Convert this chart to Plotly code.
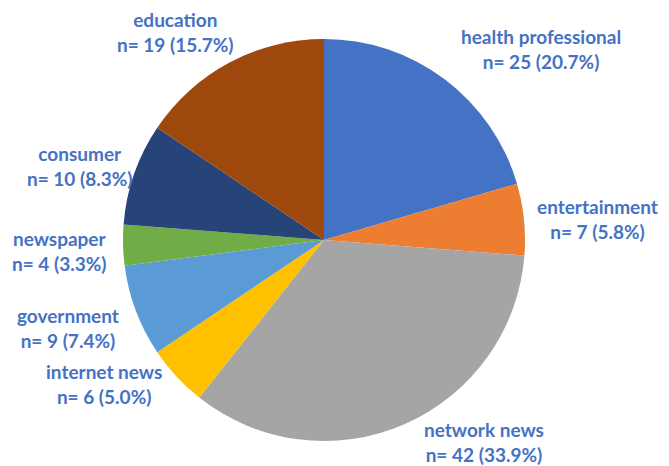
import plotly.graph_objects as go

categories = ["health professional", "entertainment", "network news", "internet news",
              "government", "newspaper", "consumer", "education"]
counts = [25, 7, 42, 6, 9, 4, 10, 19]
pct_labels = ["20.7%", "5.8%", "33.9%", "5.0%", "7.4%", "3.3%", "8.3%", "15.7%"]
colors = ["#4472C4", "#ED7D31", "#A5A5A5", "#FFC000", "#5B9BD5", "#70AD47", "#264478", "#9E480E"]

# label block centres (pixels in the 669x466 window)
label_px = [(541, 49), (597, 219), (484, 442), (104, 384),
            (68, 328), (60, 251), (80, 166), (175, 32)]

W, H = 669, 466
OFF = 8  # page body margin
cx, cy, r = 324 - OFF, 240 - OFF, 201

fig = go.Figure(go.Pie(
    labels=categories, values=counts, sort=False, direction="clockwise", rotation=0,
    marker=dict(colors=colors, line=dict(width=0)),
    textinfo="none", hoverinfo="label+value", showlegend=False,
    domain=dict(x=[(cx - r) / W, (cx + r) / W], y=[1 - (cy + r) / H, 1 - (cy - r) / H]),
))

for cat, n, p, (x, y) in zip(categories, counts, pct_labels, label_px):
    fig.add_annotation(
        x=(x - OFF) / W, y=1 - (y - OFF) / H, xref="paper", yref="paper", showarrow=False,
        text=f"<b>{cat}<br>n= {n} ({p})</b>", align="center",
        font=dict(family="Lato", size=19, color="#4472C4"),
        xanchor="center", yanchor="middle",
    )

fig.update_layout(width=W, height=H, margin=dict(l=0, r=0, t=0, b=0),
                  paper_bgcolor="white", plot_bgcolor="white")
fig.write_html("out.html")
